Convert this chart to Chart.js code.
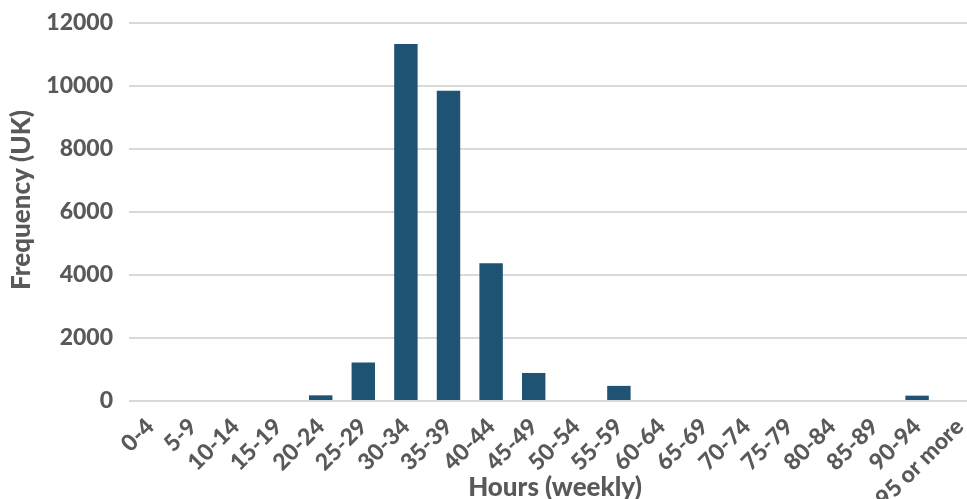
<!DOCTYPE html>
<html>
<head>
<meta charset="utf-8">
<title>Weekly hours frequency (UK)</title>
<script src="https://cdn.jsdelivr.net/npm/chart.js@4/dist/chart.umd.min.js"></script>
<style>
  html, body { margin: 0; padding: 0; background: #ffffff; overflow: hidden; }
  #wrap { position: relative; width: 981px; height: 499px; }
</style>
</head>
<body>
<div id="wrap"><canvas id="chart"></canvas></div>
<script>
// Weekly working-hour bands
const hourBands = ['0-4', '5-9', '10-14', '15-19', '20-24', '25-29', '30-34', '35-39',
  '40-44', '45-49', '50-54', '55-59', '60-64', '65-69', '70-74', '75-79',
  '80-84', '85-89', '90-94', '95 or more'];

// Number of people in each band
const frequencyUK = [0, 0, 0, 0, 180, 1220, 11330, 9850, 4370, 890, 0, 480,
  0, 0, 0, 0, 0, 0, 170, 0];

// Value axis ticks
const yTicks = [0, 2000, 4000, 6000, 8000, 10000, 12000];

const textColor = '#595959';
const fontFamily = 'Lato, "Open Sans", sans-serif';
const fontWeight = 900;

// Vertical axis title, drawn a little above the middle of the plot
const yTitlePlugin = {
  id: 'yTitle',
  afterDraw(chart) {
    const { ctx, chartArea } = chart;
    ctx.save();
    ctx.fillStyle = textColor;
    ctx.font = `${fontWeight} 26px ${fontFamily}`;
    ctx.textAlign = 'center';
    ctx.textBaseline = 'middle';
    ctx.translate(22, (chartArea.top + chartArea.bottom) / 2 - 12);
    ctx.rotate(-Math.PI / 2);
    ctx.fillText('Frequency (UK)', 0, 0);
    ctx.restore();
  }
};

new Chart(document.getElementById('chart'), {
  type: 'bar',
  data: {
    labels: hourBands,
    datasets: [{
      label: 'Frequency (UK)',
      data: frequencyUK,
      backgroundColor: '#1f5373',
      borderWidth: 0,
      barPercentage: 0.55,
      categoryPercentage: 1.0
    }]
  },
  options: {
    responsive: true,
    maintainAspectRatio: false,
    animation: false,
    layout: { padding: { top: 23, right: 0, bottom: 0, left: 0 } },
    plugins: {
      legend: { display: false },
      tooltip: { enabled: false }
    },
    scales: {
      x: {
        grid: { display: false },
        border: { display: false },
        ticks: {
          color: textColor,
          font: { family: fontFamily, size: 23, weight: fontWeight },
          maxRotation: 45,
          minRotation: 45,
          autoSkip: false,
          padding: 4
        },
        title: {
          display: true,
          text: 'Hours (weekly)',
          color: textColor,
          font: { family: fontFamily, size: 26, weight: fontWeight },
          padding: { top: 0, bottom: -4 }
        },
        afterFit(scale) {
          scale.height = 98;
          scale.paddingLeft = 0;
          scale.paddingRight = 0;
        }
      },
      y: {
        min: 0,
        max: 12000,
        afterBuildTicks(scale) { scale.ticks = yTicks.map(v => ({ value: v })); },
        grid: { color: '#d9d9d9', lineWidth: 2, drawTicks: false },
        border: { display: false },
        ticks: {
          color: textColor,
          font: { family: fontFamily, size: 23, weight: fontWeight },
          padding: 16,
          callback: (v) => String(v)
        },
        afterFit(scale) {
          scale.width = 129;
          scale.paddingTop = 0;
          scale.paddingBottom = 0;
        }
      }
    }
  },
  plugins: [yTitlePlugin]
});
</script>
</body>
</html>
